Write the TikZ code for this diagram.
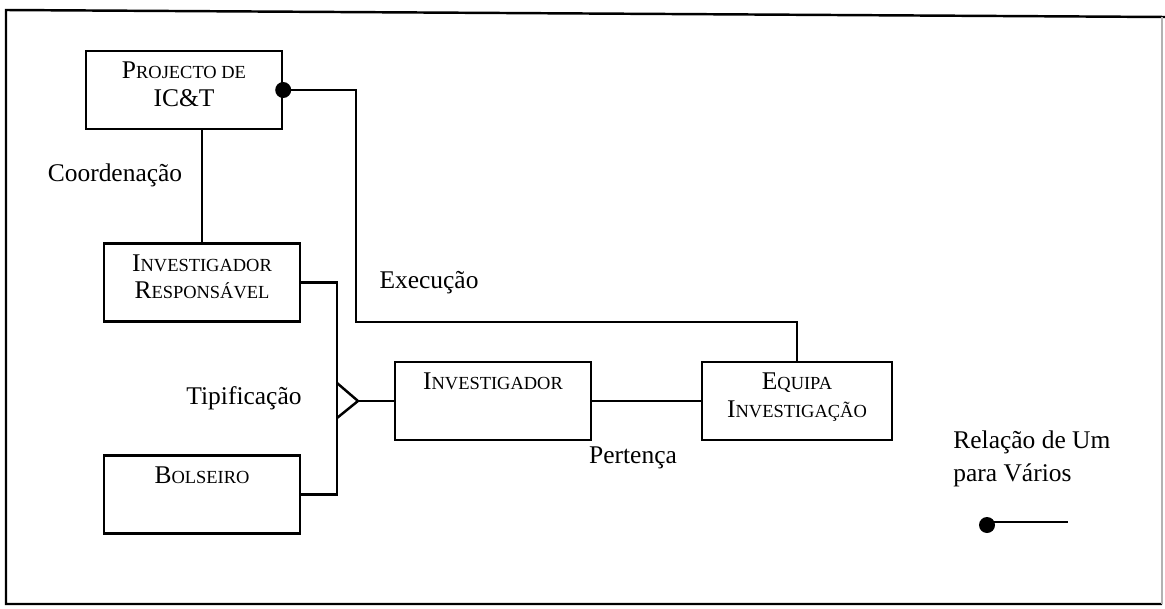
\documentclass[tikz,border=0pt]{standalone}
\usepackage{fontspec}
\setmainfont{Liberation Serif}
\newcommand{\fsc}[2]{{\fontsize{14.5}{15.5}\selectfont #1}{\fontsize{10.5}{15.5}\selectfont #2}}
\tikzset{
  entity/.style={draw, line width=1.4pt, minimum width=3.92cm, minimum height=1.56cm, inner sep=0pt},
  etext/.style={anchor=north, yshift=-0.24cm, inner sep=0pt, align=center, font=\fontsize{14.5}{15.5}\selectfont},
  rel/.style={font=\fontsize{14.5}{19}\selectfont, inner sep=0pt},
  link/.style={line width=1.4pt}
}

\begin{document}
\begin{tikzpicture}[x=0.02cm, y=-0.02cm]
    \useasboundingbox (0, 0) rectangle (1165, 608);
    \draw [line width=1.4pt] (1165, 17) -- (6, 10) -- (6, 604) -- (1162, 604);
    \draw [line width=1pt, gray!60] (1162, 604) -- (1162, 17);

    \node [entity, label={[etext]north:\fsc{P}{ROJECTO DE}\\IC\&T}] (proj) at (184, 90) {};
    \node [entity, label={[etext]north:\fsc{I}{NVESTIGADOR}\\\fsc{R}{ESPONSÁVEL}}] (resp) at (202, 282.5) {};
    \node [entity, label={[etext]north:\fsc{B}{OLSEIRO}}] (bols) at (202, 494.5) {};
    \node [entity, label={[etext]north:\fsc{I}{NVESTIGADOR}}] (inv) at (493, 401) {};
    \node [entity, minimum width=3.8cm, label={[etext]north:\fsc{E}{QUIPA}\\\fsc{I}{NVESTIGAÇÃO}}] (equipa) at (797, 401) {};

    \coordinate (exbend) at (356, 322);
    \coordinate (split) at (337, 401);
    \coordinate (foot) at (358, 401);

    % coordenacao
    \draw [link] (resp.north) -- (resp.north |- proj.south);
    \node [rel] (lcoord) at (115, 175) {Coordenação};

    % execucao
    \fill (proj.east) circle (0.16cm);
    \draw [link] (proj.east) -| (exbend) -| (equipa.north);
    \node [rel] (lexec) at (429, 283) {Execução};

    % tipificacao
    \draw [link] (resp.east) -| (split) |- (bols.east);
    \draw [link] (foot) -- ++(-21, -18) (foot) -- ++(-21, 17);
    \draw [link] (foot) -- (inv.west);
    \node [rel] (ltipo) at (244, 398) {Tipificação};

    % pertenca
    \draw [link] (inv.east) -- (equipa.west);
    \node [rel] (lpert) at (633, 458) {Pertença};

    % legenda
    \node [rel, anchor=west, align=left] (lleg) at (953, 459) {Relação de Um\\para Vários};
    \coordinate (legdot) at (987, 525);
    \coordinate (legend) at (1068, 522);
    \fill (legdot) circle (0.16cm);
    \draw [link] (legdot |- legend) -- (legend);
\end{tikzpicture}
\end{document}
